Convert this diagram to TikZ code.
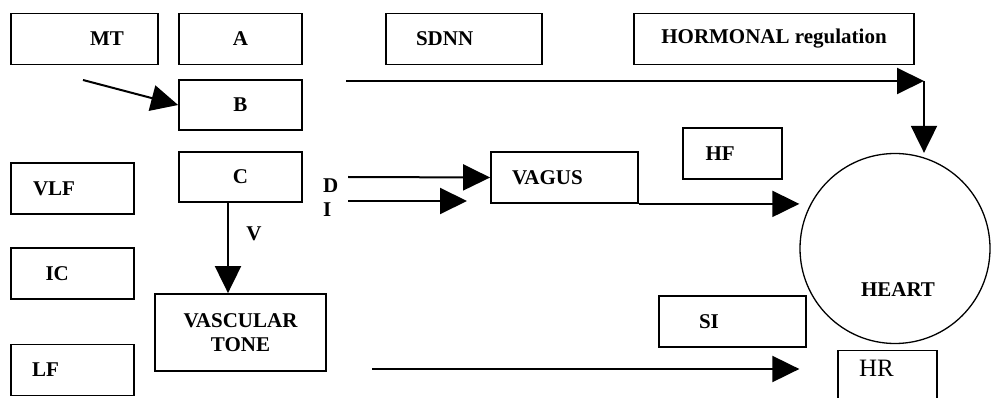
\documentclass[tikz,border=0pt]{standalone}
\usepackage{fontspec}
\setmainfont{Liberation Serif}
\usetikzlibrary{arrows.meta}

\tikzset{
  box/.style={draw, line width=1.8pt, minimum height=51pt, inner ysep=0pt,
    font=\bfseries\fontsize{21}{24}\selectfont},
  txt/.style={font=\bfseries\fontsize{21}{24}\selectfont, inner sep=0pt},
  arr/.style={line width=2pt, -{Triangle[length=27pt, width=26pt]}}
}

\begin{document}
\begin{tikzpicture}[x=1pt, y=-1pt]
                \useasboundingbox (0,0) rectangle (991,398);

                % Gorny rzad
                \node (mt) at (84.5,39) [box, text width=79pt, inner xsep=34pt, align=right] {MT};
                \node (a) at (240.5,39) [box, minimum width=123pt] {A};
                \node (sdnn) at (464,39) [box, text width=96pt, inner xsep=30pt, align=left] {SDNN};
                \node (horm) at (774,39) [box, minimum width=280pt] {HORMONAL regulation};

                % Lewa kolumna
                \node (vlf) at (72.5,188.5) [box, text width=79pt, inner xsep=22pt, align=left] {VLF};
                \node (ic) at (72.5,273.5) [box, text width=54pt, inner xsep=34.5pt, align=left] {IC};
                \node (lf) at (72.5,370) [box, text width=81pt, inner xsep=21pt, align=left] {LF};

                % Srodkowa kolumna
                \node (b) at (240.5,105) [box, minimum width=123pt, minimum height=50pt] {B};
                \node (c) at (240.5,177) [box, minimum width=123pt, minimum height=50pt] {C};
                \node (vasc) at (240.5,332.5) [box, minimum width=171pt, minimum height=77pt, align=center] {VASCULAR\\TONE};

                \node (vagus) at (564.5,177.5) [box, text width=105pt, inner xsep=21pt, align=left] {VAGUS};
                \node (hf) at (732.5,153.5) [box, text width=54pt, inner xsep=22.5pt, align=left] {HF};
                \node (si) at (732.5,321.5) [box, text width=67pt, inner xsep=40pt, align=left] {SI};

                % Serce
                \node (heart) at (895,248.5) [circle, draw, line width=1.3pt, minimum size=190pt] {};
                \node (heartlbl) at (898,290) [txt] {HEART};
                \node (hr) at (887.5,349.5) [box, anchor=north, minimum height=0pt, text width=57pt,
                  inner xsep=21pt, inner ysep=8pt, text height=18pt, text depth=40pt, align=left,
                  font=\fontsize{25}{28}\selectfont] {HR};

                % Etykiety
                \node (vlbl) at (254,234) [txt] {V};
                \node (dlbl) at (323,186) [txt, anchor=west] {D};
                \node (ilbl) at (323,210) [txt, anchor=west] {I};

                % Polaczenia
                \coordinate (mtout) at (83,80);
                \draw[arr] (mtout) -- (b.west);

                \coordinate (topin) at (346,81);
                \coordinate (topend) at (924,81);
                \draw[arr] (topin) -- (topend);
                \draw[arr] (topend) -- (topend |- heart.north);

                \draw[arr] ([xshift=-12.5pt]c.south) -- ([xshift=-12.5pt]vasc.north);

                \coordinate (din) at (348,177);
                \draw[arr] (din) -- (vagus.west);
                \coordinate (iin) at (348,201);
                \coordinate (iend) at (467,201);
                \draw[arr] (iin) -- (iend);

                \draw[arr] (vagus.south east) -- (vagus.south east -| heart.west);

                \coordinate (lfin) at (372,369);
                \draw[arr] (lfin) -- (lfin -| heart.west);

            \end{tikzpicture}
\end{document}
